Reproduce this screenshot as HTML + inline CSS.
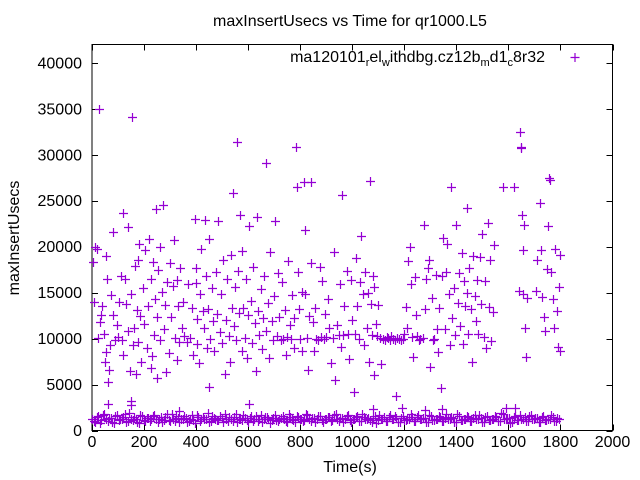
<!DOCTYPE html>
<html><head><meta charset="utf-8"><style>
html,body{margin:0;padding:0;background:#fff;}
svg{display:block;font-family:"Liberation Sans",sans-serif;}
</style></head><body>
<svg id="chart" width="640" height="480" viewBox="0 0 640 480">
<rect x="0" y="0" width="640" height="480" fill="#fff"/>
<text x="350" y="26" font-size="16" text-anchor="middle">maxInsertUsecs vs Time for qr1000.L5</text>
<text x="350" y="472" font-size="16" text-anchor="middle">Time(s)</text>
<text x="19" y="238" font-size="16" text-anchor="middle" transform="rotate(-90 19 238)">maxInsertUsecs</text>
<g id="axes"></g>
<g id="marks"></g>
<g>
<text x="545" y="62" font-size="16" text-anchor="end">ma120101<tspan font-size="11" dy="4">r</tspan><tspan dy="-4">el</tspan><tspan font-size="11" dy="4">w</tspan><tspan dy="-4">ithdbg.cz12b</tspan><tspan font-size="11" dy="4">m</tspan><tspan dy="-4">d1</tspan><tspan font-size="11" dy="4">c</tspan><tspan dy="-4">8r32</tspan></text>
<path d="M570.5 57.5h9M575 53v9" stroke="#9400d3" stroke-width="1.2"/>
</g>
</svg>
<script>
const xTicks = [0,200,400,600,800,1000,1200,1400,1600,1800,2000];
const yTicks = [0,5000,10000,15000,20000,25000,30000,35000,40000];
const upperTimes = [5,8,12,18,22,28,30,35,40,45,50,52,55,58,
62,65,70,72,80,82,88,95,100,105,110,115,118,120,
125,130,138,140,145,148,150,155,158,160,165,170,172,175,178,
182,185,190,195,200,205,210,215,220,225,228,232,235,240,242,
245,248,250,255,260,262,268,272,275,280,285,290,295,300,
305,310,315,320,325,328,330,335,340,345,350,355,
365,370,378,385,390,395,398,400,402,405,410,415,420,
425,430,433,438,440,445,448,450,455,460,465,470,475,480,
486,490,495,500,505,510,515,520,525,530,535,538,
541,545,550,553,557,560,565,570,575,578,582,588,592,596,
600,605,610,615,620,625,630,633,638,642,648,652,656,
662,668,670,675,680,685,690,695,700,705,710,715,718,
725,730,735,740,745,750,755,760,765,770,775,778,
783,786,790,795,800,805,808,813,817,820,825,830,835,840,
843,848,852,857,862,868,875,880,885,890,895,
900,905,912,918,925,930,935,940,948,952,958,
962,965,970,978,982,988,995,1000,1005,1010,1015,1020,
1025,1030,1035,1040,1045,1050,1055,1060,1065,1070,1072,1075,1078,
1082,1085,1090,1095,1100,1105,1110,1118,1125,1132,1138,
1145,1150,1158,1165,1172,1180,1188,1195,
1200,1205,1210,1215,1220,1225,1230,1235,1240,1245,1250,1255,
1262,1270,1275,1280,1285,1290,1295,1300,1305,1310,1315,
1320,1325,1330,1335,1340,1345,1350,1355,1360,1365,1370,1375,
1380,1385,1390,1395,1400,1405,1410,1415,1420,1425,1430,1435,1440,
1442,1445,1450,1455,1460,1465,1470,1475,1480,1485,1490,1495,
1500,1505,1510,1515,1520,1525,1530,1535,1540,1545,
1580,1620,1640,1645,1648,1650,1652,1655,1658,1660,1663,1668,1670,
1705,1710,1720,1725,1730,1735,1740,1748,1752,1755,1760,1765,1770,1775,1780,1785,1790,1795,1800,1798,
60,150,335,605,1080,1190,1280,1345,1590,1625,1170];
const upperValues = [18300,14000,20000,19800,10100,35000,11800,12600,13500,10500,7500,19000,8500,16500,
5300,6600,9300,14700,21600,12600,9800,11500,10200,14000,16800,9800,23700,8200,
16500,13800,22100,10800,6500,2800,14800,34100,9300,11200,17900,6100,13100,9600,18500,
20300,12500,7400,15500,11600,19600,9000,13600,20800,6800,16500,8100,18300,10400,14300,
24100,12300,5700,17500,20000,9800,15100,24500,11000,13700,6400,16200,8400,18200,
12300,15700,20700,10100,16400,7700,13600,9600,17700,11200,14000,10300,
9600,15900,10100,13300,8200,23000,16000,17700,9400,12100,7300,14900,19800,
13000,11200,22900,16800,9000,13200,4700,20800,10000,15500,11900,8600,17300,12700,
22800,10700,14800,9500,18600,6200,12000,16500,10300,7500,19100,13300,
25800,11400,15600,9800,31400,17400,12800,23400,8700,19500,13300,10100,16500,7900,
12600,22200,14100,9500,17800,11700,6500,23200,13000,10400,15400,8900,12200,
16800,29100,10800,13900,7900,19400,11900,9900,14600,22800,10300,17100,12300,
9800,16200,10000,13100,8200,10200,18400,11500,10000,14700,9000,12200,
30800,26500,17300,13200,10000,15100,8600,27000,21800,14800,10100,6600,12500,18200,
27000,11800,8600,13300,10000,9900,17800,10200,16300,10000,12700,
10200,14300,11100,7300,10100,19400,5500,11500,10400,15900,9100,
25600,10400,13600,17400,10500,7800,16400,12000,4200,10500,18800,13500,
10000,16200,21200,14800,9300,17300,11200,15000,7400,27100,13800,10400,16800,
6000,15600,11600,10300,13700,10100,7200,10000,9900,10200,10100,
9800,10300,10000,9800,10100,10000,9900,10000,
10500,13400,11100,18400,20000,15900,10200,8000,16700,12600,10300,9900,
10000,10100,22400,13200,16500,17700,18600,6900,14400,9800,10000,
16900,11000,8500,13300,4600,16800,21000,11000,17300,20300,14800,9300,
26500,12200,15500,10400,22400,13900,17100,11400,19300,9400,16300,13500,15000,
24200,10500,17700,13200,7500,19000,14600,11900,16400,10500,18900,13800,
21400,10200,16300,9000,22600,13400,18500,9700,12900,20200,
26500,26500,15200,32500,30800,30700,23500,14900,19600,22400,11100,8000,14400,
15200,18500,24700,19600,14500,12300,10800,17600,22300,27500,27300,17300,14300,11200,19800,13000,9100,15600,19100,8600,
2900,3200,2100,2900,2300,2400,2200,2300,2500,2500,3800];
const bandTimes = [0,12,24,36,48,60,72,84,96,108,120,132,144,156,168,180,192,204,216,228,240,252,264,276,288,300,312,324,336,348,360,372,384,396,408,420,432,444,456,468,480,492,504,516,528,540,552,564,576,588,600,612,624,636,648,660,672,684,696,708,720,732,744,756,768,780,792,804,816,828,840,852,864,876,888,900,912,924,936,948,960,972,984,996,1008,1020,1032,1044,1056,1068,1080,1092,1104,1116,1128,1140,1152,1164,1176,1188,1200,1212,1224,1236,1248,1260,1272,1284,1296,1308,1320,1332,1344,1356,1368,1380,1392,1404,1416,1428,1440,1452,1464,1476,1488,1500,1512,1524,1536,1548,1560,1572,1584,1596,1608,1620,1632,1644,1656,1668,1680,1692,1704,1716,1728,1740,1752,1764,1776,1788,1798];
const bandValues = [1300,900,1600,1100,1800,1000,1400,800,1700,1200,1500,900,1900,1100,1300,800,1600,1000,1400,1200,1700,900,1500,1100,1800,1000,1300,1600,900,1200,1400,1000,1700,800,1500,1200,1300,1900,1000,1400,1100,1600,900,1300,1500,1000,1800,1200,1100,1400,900,1600,1300,1000,1700,1200,1500,800,1400,1100,1300,1600,1000,1800,1200,900,1500,1300,1100,1700,1000,1400,1200,1600,900,1300,1500,1100,1800,1000,1400,1200,1700,900,1300,1600,1000,1500,1200,1100,1400,800,1700,1300,1000,1500,1200,1600,900,1400,1100,1300,1800,1000,1500,1200,1400,900,1700,1100,1300,1600,1000,1400,1200,1500,900,1800,1100,1300,1600,1000,1400,1200,1700,900,1500,1100,1300,1600,1000,1900,1200,1400,800,1500,1100,1700,1300,1000,1600,1200,1400,900,1500,1100,1300,1700,1000,1400];
const bandTimes2 = [6,18,30,42,54,66,78,90,102,114,126,138,150,162,174,186,198,210,222,234,246,258,270,282,294,306,318,330,342,354,366,378,390,402,414,426,438,450,462,474,486,498,510,522,534,546,558,570,582,594,606,618,630,642,654,666,678,690,702,714,726,738,750,762,774,786,798,810,822,834,846,858,870,882,894,906,918,930,942,954,966,978,990,1002,1014,1026,1038,1050,1062,1074,1086,1098,1110,1122,1134,1146,1158,1170,1182,1194,1206,1218,1230,1242,1254,1266,1278,1290,1302,1314,1326,1338,1350,1362,1374,1386,1398,1410,1422,1434,1446,1458,1470,1482,1494,1506,1518,1530,1542,1554,1566,1578,1590,1602,1614,1626,1638,1650,1662,1674,1686,1698,1710,1722,1734,1746,1758,1770,1782,1794];
const bandValues2 = [1000,1500,800,1700,1200,1400,900,1600,1100,1300,1800,1000,1200,1500,900,1700,1100,1400,1000,1600,1200,1300,900,1500,1100,1800,1000,1400,1200,1600,900,1300,1100,1700,1000,1500,1200,900,1600,1300,1100,1400,1800,1000,1200,1500,900,1300,1700,1100,1400,1000,1600,1200,900,1500,1300,1100,1700,1000,1400,1200,900,1500,1100,1600,1300,1000,1800,1200,1400,900,1600,1100,1300,1500,1000,1700,1200,1400,900,1600,1100,1300,1500,1000,1800,1200,1400,900,1600,1100,1300,1500,1000,1700,1200,1400,900,1600,1100,1300,1500,1000,1700,1200,1400,900,1600,1100,1300,1500,1000,1800,1200,1400,900,1600,1100,1300,1500,1000,1700,1200,1400,900,1600,1100,1300,1500,1000,1800,1200,1400,900,1600,1100,1300,1500,1000,1700,1200,1400,900,1600,1100,1300,1500,1000,1200];

const X0=92, X1=612.5, Y0=430.5, Y1=44.5, XMAX=2000, YMAX=42000;
function xs(t){return X0+(X1-X0)*t/XMAX;}
function ys(v){return Y0-(Y0-Y1)*v/YMAX;}
const NS="http://www.w3.org/2000/svg";
const axes=document.getElementById('axes');
const marks=document.getElementById('marks');
function mk(tag,attrs,parent){const e=document.createElementNS(NS,tag);for(const k in attrs)e.setAttribute(k,attrs[k]);parent.appendChild(e);return e;}

const border=mk('rect',{x:X0,y:Y1,width:X1-X0,height:Y0-Y1,fill:'none',stroke:'#000','stroke-width':1},axes);


xTicks.forEach(t=>{
  const x=Math.round(xs(t))+0.5;
  const tk=mk('path',{d:`M${x} ${Y0}v-6M${x} ${Y1}v6`,stroke:'#000','stroke-width':1},axes);
  
  
  const lb=mk('text',{x:xs(t),y:447,'font-size':16,'text-anchor':'middle'},axes);
  lb.textContent=t;
  
  
});
yTicks.forEach(v=>{
  const y=Math.round(ys(v))+0.5;
  const tk=mk('path',{d:`M${X0} ${y}h6M${X1} ${y}h-6`,stroke:'#000','stroke-width':1},axes);
  
  
  const lb=mk('text',{x:82,y:ys(v)+5.5,'font-size':16,'text-anchor':'end'},axes);
  lb.textContent=v;
  
  
});
function cross(t,v,name){
  const x=Math.round(xs(t))+0.5, y=Math.round(ys(v))+0.5;
  const p=mk('path',{d:`M${x-4.5} ${y}h9M${x} ${y-4.5}v9`,stroke:'#9400d3','stroke-width':1.2},marks);
  
  
}
bandTimes.forEach((t,i)=>{cross(t,bandValues[i],'band-point');});
bandTimes2.forEach((t,i)=>{cross(t,bandValues2[i],'band-point');});
upperTimes.forEach((t,i)=>{cross(t,upperValues[i],'data-point');});
</script>
</body></html>
